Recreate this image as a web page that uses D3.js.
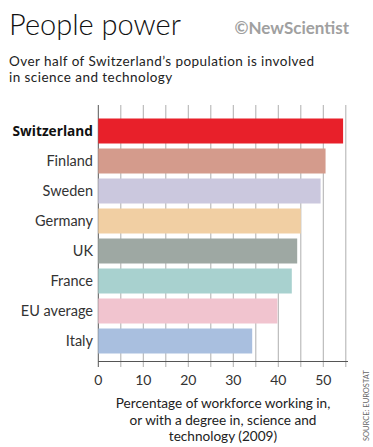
<!DOCTYPE html>
<html><head><meta charset="utf-8">
<script src="https://cdn.jsdelivr.net/npm/d3@7"></script>
<style>
html,body{margin:0;padding:0;background:#fff;}
svg{display:block;}
text{font-family:Lato,"Open Sans",sans-serif;}
</style></head>
<body>
<script>
const categories = ["Switzerland","Finland","Sweden","Germany","UK","France","EU average","Italy"];
const values = [54.4, 50.5, 49.4, 45.0, 44.2, 43.0, 39.8, 34.2];
const colors = ["#e8202a","#d49b8c","#cbc8de","#f1cfa3","#9ea8a3","#a8d1cf","#f1c4cf","#a9bfdf"];
const tickValues = [0,5,10,15,20,25,30,35,40,45,50,55];
const tickLabels = [0,10,20,30,40,50];
const titleText = "People power";
const brandText = "©NewScientist";
const subtitleLines = ["Over half of Switzerland’s population is involved","in science and technology"];
const axisTitleLines = ["Percentage of workforce working in,","or with a degree in, science and","technology (2009)"];
const sourceText = "SOURCE: EUROSTAT";

const W = 373, H = 447;
const svg = d3.select("body").append("svg").attr("width", W).attr("height", H);

const x = d3.scaleLinear().domain([0,55]).range([98.3, 345.8]);
const y = d3.scaleBand().domain(categories).range([116, 356]).paddingInner(1/6).paddingOuter(1/12);

// title
svg.append("text").attr("x", 9).attr("y", 35).attr("font-size", 29).attr("font-weight", 300)
  .attr("fill", "#111").text(titleText);
svg.append("text").attr("x", 349).attr("y", 34).attr("text-anchor","end").attr("font-size", 17)
  .attr("font-weight", 700).attr("fill", "#a0a0a0").text(brandText);
svg.selectAll("text.sub").data(subtitleLines).join("text").attr("class","sub")
  .attr("x", 9).attr("y", (d,i)=>65.5 + i*16.2).attr("font-size", 13.5)
  .attr("letter-spacing", 0.45).attr("fill","#222").text(d=>d);

// gridlines
svg.append("g").selectAll("line").data(tickValues).join("line")
  .attr("x1", d=>x(d)).attr("x2", d=>x(d)).attr("y1", 105).attr("y2", 367)
  .attr("stroke", d=> d===0 ? "#555" : "#9a9a9a").attr("stroke-width", d=> d===0 ? 1 : 0.8);

// bars
svg.append("g").selectAll("rect").data(categories).join("rect")
  .attr("x", x(0)).attr("y", d=>y(d)).attr("height", y.bandwidth())
  .attr("width", (d,i)=>x(values[i]) - x(0)).attr("fill", (d,i)=>colors[i]);

// axis line
svg.append("line").attr("x1", x(0)).attr("x2", 348).attr("y1", 361.5).attr("y2", 361.5)
  .attr("stroke", "#555").attr("stroke-width", 1);

// tick labels
svg.append("g").selectAll("text").data(tickLabels).join("text")
  .attr("x", d=>x(d)).attr("y", 385).attr("text-anchor","middle").attr("font-size", 14)
  .attr("fill","#333").text(d=>d);

// category labels
svg.append("g").selectAll("text").data(categories).join("text")
  .attr("x", 93).attr("y", d=>y(d) + y.bandwidth()/2 + 5).attr("text-anchor","end")
  .attr("font-size", (d,i)=> i===0 ? 13.7 : 14.5)
  .style("font-family", (d,i)=> i===0 ? "'Open Sans', Lato, sans-serif" : null)
  .attr("font-weight", (d,i)=> i===0 ? 700 : 400)
  .attr("fill", (d,i)=> i===0 ? "#111" : "#333").text(d=>d);

// axis title
svg.append("g").selectAll("text").data(axisTitleLines).join("text")
  .attr("x", 223).attr("y", (d,i)=>408 + i*16.5).attr("text-anchor","middle").attr("font-size", 13.6)
  .attr("fill","#222").text(d=>d);

// source
svg.append("text").attr("transform","translate(369,441) rotate(-90)").attr("font-size", 7.5)
  .attr("fill","#666").text(sourceText);
</script>
</body></html>
